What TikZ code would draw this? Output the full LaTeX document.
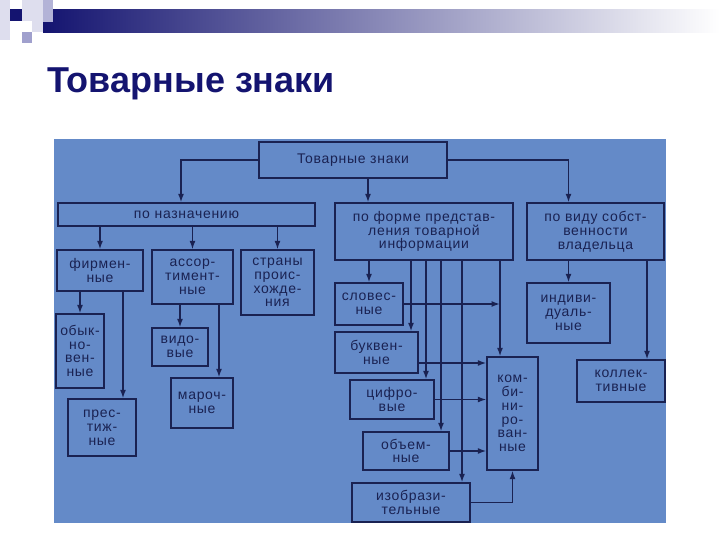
\documentclass[tikz,border=0pt]{standalone}
\usepackage{fontspec}
\setmainfont{Liberation Sans}
\newfontfamily\boxfont[LetterSpace=5]{Liberation Sans}
\usetikzlibrary{arrows.meta}
\definecolor{photo}{RGB}{100,138,200}
\definecolor{ink}{RGB}{26,34,82}
\definecolor{navy}{RGB}{20,20,112}
\definecolor{lav}{RGB}{160,160,205}
\definecolor{lavlight}{RGB}{222,222,238}
\begin{document}
\begin{tikzpicture}[x=1pt, y=-1pt, >={Latex[length=8.5pt,width=6pt]},
	box/.style={draw=ink, line width=1.4pt, inner sep=0pt, align=center, text=ink,
		font=\boxfont\fontsize{14}{13.8}\selectfont},
	link/.style={draw=ink, line width=1.4pt, ->}]
	\useasboundingbox (0,0) rectangle (720,540);
	
	% 1. шапка слайда: полоса и квадратики
	\shade[left color=navy, right color=white] (43,10) rectangle (720,33);
	\fill[lavlight] (0,0) rectangle (10,40);
	\fill[lavlight] (22,0) rectangle (43,21);
	\fill[lavlight] (32,21) rectangle (43,32);
	\fill[navy] (10,9) rectangle (22,21);
	\fill[lav!80] (43,0) rectangle (53,22);
	\fill[lav] (22,32) rectangle (32,43);
	\node[anchor=base west, inner sep=0pt, text=navy,
		font=\bfseries\fontsize{36}{40}\selectfont] (title) at (47,93) {Товарные знаки};
	
	% 2. фон фотографии
	\fill[photo] (54,139) rectangle (666,523);
	
	% 3. блоки схемы
	\node[box, minimum width=188, minimum height=36] (tz) at (353,160) {Товарные знаки};
	\node[box, minimum width=257, minimum height=23] (pn) at (186.5,214.5) {по назначению};
	\node[box, minimum width=178, minimum height=57] (pf) at (424,231.5) {по форме представ-\\ления товарной\\информации};
	\node[box, minimum width=137, minimum height=57] (pv) at (595.5,231.5) {по виду собст-\\венности\\владельца};
	
	\node[box, minimum width=86, minimum height=41] (firm) at (100,270.5) {фирмен-\\ные};
	\node[box, minimum width=81, minimum height=54] (assort) at (192.5,277) {ассор-\\тимент-\\ные};
	\node[box, minimum width=73, minimum height=65] (strany) at (277.5,282.5) {страны\\проис-\\хожде-\\ния};
	\node[box, minimum width=48, minimum height=74] (obyk) at (80,351) {обык-\\но-\\вен-\\ные};
	\node[box, minimum width=68, minimum height=57] (prest) at (102,427.5) {прес-\\тиж-\\ные};
	\node[box, minimum width=56, minimum height=38] (vid) at (180,347) {видо-\\вые};
	\node[box, minimum width=62, minimum height=50] (mar) at (202,403) {мароч-\\ные};
	
	\node[box, minimum width=68, minimum height=42] (slov) at (369,304) {словес-\\ные};
	\node[box, minimum width=83, minimum height=41] (bukv) at (376.5,352.5) {буквен-\\ные};
	\node[box, minimum width=84, minimum height=39] (cifr) at (392,399.5) {цифро-\\вые};
	\node[box, minimum width=86, minimum height=38] (obem) at (406,451) {объем-\\ные};
	\node[box, minimum width=118, minimum height=39] (izob) at (411,502.5) {изобрази-\\тельные};
	\node[box, minimum width=51, minimum height=113] (komb) at (512.5,413.5) {ком-\\би-\\ни-\\ро-\\ван-\\ные};
	
	\node[box, minimum width=83, minimum height=60] (indiv) at (568.5,313) {индиви-\\дуаль-\\ные};
	\node[box, minimum width=88, minimum height=42] (koll) at (621,381) {коллек-\\тивные};
	
	% 4. связи
	\draw[link] (tz.west) -| ([xshift=-5.5]pn.north);
	\draw[link] ([xshift=15]tz.south) -- ([xshift=15]tz.south |- pf.north);
	\draw[link] (tz.east) -| (indiv.north |- pv.north);
	
	\draw[link] (pn.south -| firm.north) -- (firm.north);
	\draw[link] (pn.south -| assort.north) -- (assort.north);
	\draw[link] (pn.south -| strany.north) -- (strany.north);
	\draw[link] (firm.south -| obyk.north) -- (obyk.north);
	\draw[link] ([xshift=21]prest.north |- firm.south) -- ([xshift=21]prest.north);
	\draw[link] (assort.south -| vid.north) -- (vid.north);
	\draw[link] ([xshift=17]mar.north |- assort.south) -- ([xshift=17]mar.north);
	
	\draw[link] (pf.south -| slov.north) -- (slov.north);
	\draw[link] ([xshift=34.5]bukv.north |- pf.south) -- ([xshift=34.5]bukv.north);
	\draw[link] ([xshift=34]cifr.north |- pf.south) -- ([xshift=34]cifr.north);
	\draw[link] ([xshift=35]obem.north |- pf.south) -- ([xshift=35]obem.north);
	\draw[link] ([xshift=51]izob.north |- pf.south) -- ([xshift=51]izob.north);
	\draw[link] ([xshift=-12.5]komb.north |- pf.south) -- ([xshift=-12.5]komb.north);
	
	\coordinate (bk) at ([yshift=-10.5pt]bukv.east);
	\draw[link] (slov.east) -- ([xshift=-12.5]komb.north |- slov.east);
	\draw[link] (bk) -- (bk -| komb.west);
	\draw[link] (cifr.east) -- (cifr.east -| komb.west);
	\draw[link] (obem.east) -- (obem.east -| komb.west);
	\draw[link] (izob.east) -| (komb.south);
	
	\draw[link] (pv.south -| indiv.north) -- (indiv.north);
	\draw[link] ([xshift=26]koll.north |- pv.south) -- ([xshift=26]koll.north);
	
\end{tikzpicture}
\end{document}
